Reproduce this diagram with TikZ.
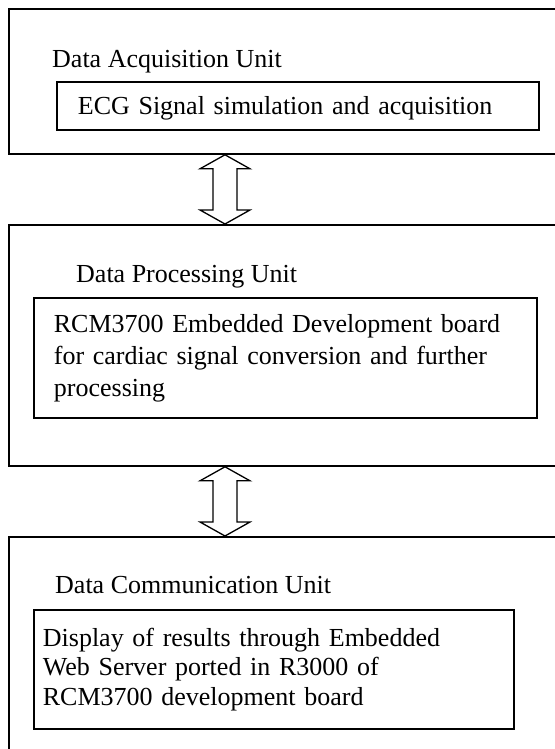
\documentclass[tikz,border=0pt]{standalone}
\usepackage{fontspec}
\setmainfont{Liberation Serif}
\usetikzlibrary{calc}

\begin{document}
\begin{tikzpicture}[x=1pt,y=-1pt,
    unit/.style={draw,line width=1.8pt,anchor=north west,minimum width=600pt,inner sep=0pt},
    title/.style={anchor=base west,inner sep=0pt,font=\fontsize{26}{30}\selectfont},
    block/.style={draw,line width=1.8pt,anchor=north west,inner ysep=0pt,align=left,font=\fontsize{26}{29.5}\selectfont},
    link/.style={line width=1.3pt,line join=miter}]
  \useasboundingbox (0,0) rectangle (554,749);
  % the three units
  \node[unit,minimum height=145pt] (acq) at (8,8) {};
  \node[unit,minimum height=241pt] (proc) at (8,224) {};
  \node[unit,minimum height=260pt] (comm) at (8,536) {};
  \node[title] (acqtitle) at (52,68) {Data Acquisition Unit};
  \node[title] (proctitle) at (76,282) {Data Processing Unit};
  \node[title] (commtitle) at (55,593) {Data Communication Unit};
  % inner blocks
  \node[block,inner xsep=21pt,text width=440pt,minimum height=48pt,text depth=0pt] (ecg) at (56,81)
    {ECG Signal simulation and acquisition};
  \node[block,inner xsep=20pt,text width=463pt,minimum height=120pt,font=\fontsize{26}{32}\selectfont] (board) at (33,297)
    {RCM3700 Embedded Development board\\for cardiac signal conversion and further\\processing};
  \node[block,inner xsep=9pt,text width=462pt,minimum height=119pt] (server) at (33,609)
    {Display of results through Embedded\\Web Server ported in R3000 of\\RCM3700 development board};
  % hollow double arrows
  \coordinate (ax) at (225,0);
  \foreach \a/\b in {acq/proc,proc/comm}
    \draw[link] (ax |- \a.south) -- ++(25,14) -- ++(-13,0) -- ($(ax |- \b.north)+(12,-14)$)
      -- ++(13,0) -- (ax |- \b.north) -- ++(-25,-14) -- ++(13,0)
      -- ($(ax |- \a.south)+(-12,14)$) -- ++(-13,0) -- cycle;
\end{tikzpicture}
\end{document}
